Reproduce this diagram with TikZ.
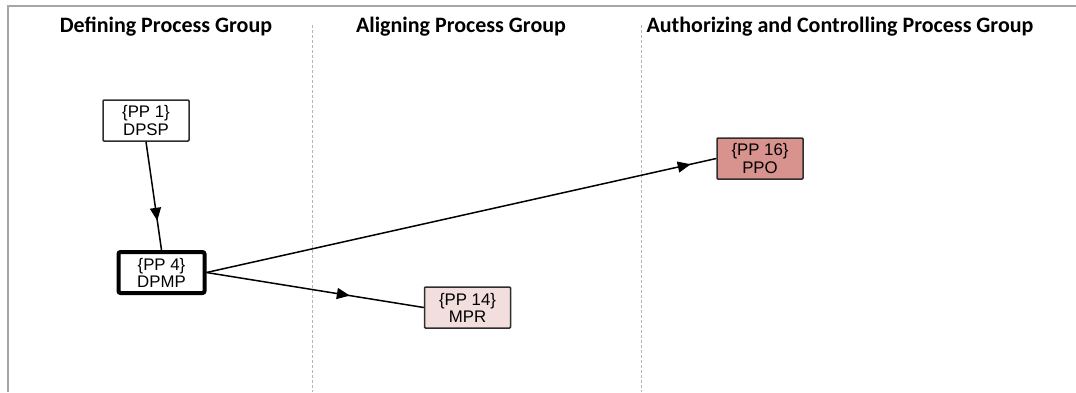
\documentclass[tikz,border=0pt]{standalone}
\usepackage{fontspec}
\setmainfont{Liberation Sans}
\newfontfamily\titlefont{Carlito}
\usetikzlibrary{arrows.meta,decorations.markings}
\definecolor{framegray}{HTML}{A6A6A6}
\definecolor{divgray}{HTML}{B4B4B4}
\definecolor{ppofill}{HTML}{D9938E}
\definecolor{mprfill}{HTML}{F2DEDC}
\definecolor{boxline}{HTML}{2E2E2E}
\tikzset{
  grouptitle/.style={font=\titlefont\bfseries\fontsize{11pt}{12pt}\selectfont, text=black, inner sep=0pt, anchor=base},
  ppbox/.style={draw=boxline, line width=0.75pt, fill=white, minimum width=43pt, minimum height=20.5pt,
    inner sep=0pt, align=center, rounded corners=0.5pt,
    font=\fontsize{8.4pt}{7.4pt}\selectfont},
  thickbox/.style={ppbox, draw=black, line width=2pt, rounded corners=1pt},
  divider/.style={draw=divgray, line width=0.5pt, dash pattern=on 1.5pt off 1pt},
  flow/.style={draw=black, line width=0.75pt, postaction={decorate},
    decoration={markings, mark=at position #1 with {\arrow{Triangle[length=6.5pt,width=5.5pt]}}}}
}
\begin{document}
\begin{tikzpicture}[x=0.5pt,y=-0.5pt]
\useasboundingbox (0,0) rectangle (1076,392);
% frame
\draw[framegray, line width=1pt] (8,392) -- (8,6) -- (1076,6);
% dividers
\coordinate (d1top) at (312,25);
\coordinate (d1bot) at (312,392);
\coordinate (d2top) at (641,25);
\coordinate (d2bot) at (641,392);
\draw[divider] (d1top) -- (d1bot);
\draw[divider] (d2top) -- (d2bot);
% titles
\node[grouptitle] (t1) at (166,32) {Defining Process Group};
\node[grouptitle] (t2) at (461,32) {Aligning Process Group};
\node[grouptitle] (t3) at (840,32) {Authorizing and Controlling Process Group};
% boxes
\node[ppbox] (dpsp) at (146,120.5) {\{PP 1\}\\DPSP};
\node[thickbox] (dpmp) at (161.5,272.5) {\{PP 4\}\\DPMP};
\node[ppbox, fill=ppofill] (ppo) at (760,158.5) {\{PP 16\}\\PPO};
\node[ppbox, fill=mprfill] (mpr) at (467.5,307.5) {\{PP 14\}\\MPR};
% connectors
\draw[flow=0.73] (dpsp.south) -- (dpmp.north);
\draw[flow=0.66] (dpmp.east) -- (mpr.west);
\draw[flow=0.95] (dpmp.east) -- (ppo.west);
\end{tikzpicture}
\end{document}
